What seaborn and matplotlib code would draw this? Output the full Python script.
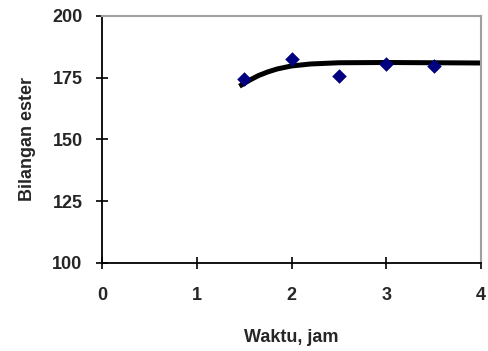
import numpy as np
import pandas as pd
import seaborn as sns
import matplotlib
matplotlib.use("Agg")
import matplotlib.pyplot as plt

# data points
waktu = [1.5, 2.0, 2.5, 3.0, 3.5]
ester = [174.5, 182.5, 175.7, 180.6, 179.8]

# trend curve
curve_x = [1.45, 1.55, 1.65, 1.75, 1.85, 2.0, 2.2, 2.5, 3.0, 3.5, 4.0]
curve_y = [171.5, 173.8, 175.8, 177.3, 178.5, 179.7, 180.5, 181.0, 181.1, 181.0, 180.9]

xticks = [0, 1, 2, 3, 4]
yticks = [100, 125, 150, 175, 200]

sns.set_theme(style="white")
plt.rcParams['font.family'] = ['Liberation Sans', 'DejaVu Sans']

fig = plt.figure(figsize=(4.88, 3.51), dpi=100)
ax = fig.add_axes([0.209, 0.251, 0.777, 0.704])

df_pts = pd.DataFrame({"x": waktu, "y": ester})
df_curve = pd.DataFrame({"x": curve_x, "y": curve_y})

sns.lineplot(data=df_curve, x="x", y="y", ax=ax, color="black", linewidth=3.6,
             sort=True, solid_capstyle="butt")
sns.scatterplot(data=df_pts, x="x", y="y", ax=ax, marker="D", color="#000080",
                s=55, edgecolor="#000080", linewidth=0, zorder=3)

ax.set_xlim(0, 4)
ax.set_ylim(100, 200)
ax.set_xticks(xticks)
ax.set_yticks(yticks)
ax.set_xticklabels([str(t) for t in xticks], fontsize=13, fontweight="bold")
ax.set_yticklabels([str(t) for t in yticks], fontsize=13, fontweight="bold")
ax.tick_params(axis="both", direction="inout", length=8, width=1.2, color="black",
               bottom=True, left=True)
ax.tick_params(axis="x", pad=13)
ax.tick_params(axis="y", pad=10)

ax.set_xlabel("Waktu, jam", fontsize=13, fontweight="bold", labelpad=18)
ax.set_ylabel("Bilangan ester", fontsize=13, fontweight="bold", labelpad=12)

for s in ["left", "bottom"]:
    ax.spines[s].set_color("black")
    ax.spines[s].set_linewidth(1.3)
for s in ["top", "right"]:
    ax.spines[s].set_color("#a0a0a0")
    ax.spines[s].set_linewidth(1.5)

ax.grid(False)
ax.set_facecolor("white")
fig.patch.set_facecolor("white")

fig.savefig("out.png", dpi=100)
